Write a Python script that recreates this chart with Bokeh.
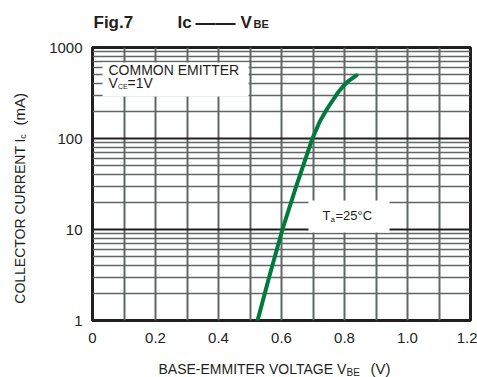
import math
from bokeh.plotting import figure
from bokeh.layouts import column, row
from bokeh.models import FixedTicker, Grid, Label, Range1d
from bokeh.embed import file_html
from bokeh.resources import INLINE

# ---- data ----
vbe = [0.524, 0.563, 0.603, 0.644, 0.698, 0.722, 0.746, 0.778, 0.795, 0.810, 0.838]
ic = [1.0, 3.2, 10.0, 28.0, 100.0, 155.0, 215.0, 316.0, 372.0, 422.0, 495.0]

x_ticks = [0, 0.2, 0.4, 0.6, 0.8, 1.0, 1.2]
x_tick_labels = ["0", "0.2", "0.4", "0.6", "0.8", "1.0", "1.2"]
y_ticks = [1, 10, 100, 1000]
y_tick_labels = ["1", "10", "100", "1000"]
x_grid = [0.1, 0.2, 0.3, 0.4, 0.5, 0.6, 0.7, 0.8, 0.9, 1.0, 1.1]
y_decade_grid = [10, 100]
y_minor_grid = [m * d for d in (1, 10, 100) for m in range(2, 10)]

FONT = "Liberation Sans"
INK = "#231f20"
GRID = "#5f6665"
GREEN = "#007a3d"

# page geometry (pixels)
W, H = 477, 377
L, R, T, B = 92, 470, 47, 320          # plot frame on the page
TOP_H = 40                              # title strip height
BOT_H = 27                              # x-title strip height
YL_W = 40                               # y-title strip width
MID_H = H - TOP_H - BOT_H
BASE_K = 0.37                           # alphabetic-baseline correction (x font size)


def dx(px):
    return (px - L) / (R - L) * 1.2


def dy(py):
    return 10 ** ((B - py) / (B - T) * 3)


def strip(w, h):
    f = figure(width=w, height=h, x_range=Range1d(0, w), y_range=Range1d(h, 0),
               x_axis_type=None, y_axis_type=None, output_backend="svg",
               toolbar_location=None, min_border=0)
    f.outline_line_color = None
    f.grid.visible = False
    f.background_fill_color = "white"
    f.border_fill_color = "white"
    return f


def label(x, y, text, size, bold=False, angle=0.0, align="left", baseline="alphabetic"):
    return Label(x=x, y=y, text=text, text_font=FONT,
                 text_font_size=f"{size}px", text_color=INK,
                 text_font_style="bold" if bold else "normal",
                 text_baseline=baseline, text_align=align, angle=angle)


def plab(px, py, text, size):
    # label inside the main plot, placed by page pixels (py = wanted baseline)
    p.add_layout(label(dx(px), dy(py - BASE_K * size), text, size))


def slab(f, px, py, text, size, bold=False):
    # label in a strip (local pixels, py = wanted baseline)
    f.add_layout(label(px, py - BASE_K * size, text, size, bold=bold))


# ---- main plot ----
p = figure(width=W - YL_W, height=MID_H, x_range=Range1d(0, 1.2), y_range=Range1d(1, 1000),
           y_axis_type="log", output_backend="svg", toolbar_location=None,
           min_border_left=L - YL_W, min_border_right=W - R,
           min_border_top=T - TOP_H, min_border_bottom=H - BOT_H - B)
p.background_fill_color = "white"
p.border_fill_color = "white"
p.outline_line_color = INK
p.outline_line_width = 3

p.xaxis.ticker = FixedTicker(ticks=x_ticks)
p.xaxis.major_label_overrides = {t: s for t, s in zip(x_ticks, x_tick_labels)}
p.yaxis.ticker = FixedTicker(ticks=y_ticks)
p.yaxis.major_label_overrides = {t: s for t, s in zip(y_ticks, y_tick_labels)}
for ax in (p.xaxis, p.yaxis):
    ax.axis_line_color = None
    ax.major_tick_line_color = None
    ax.minor_tick_line_color = None
    ax.major_label_text_font = FONT
    ax.major_label_text_font_size = "15px"
    ax.major_label_text_color = INK
p.xaxis.major_label_standoff = 6
p.yaxis.major_label_standoff = 4

p.xgrid.ticker = FixedTicker(ticks=x_grid)
p.xgrid.grid_line_color = GRID
p.xgrid.grid_line_width = 2
p.ygrid.ticker = FixedTicker(ticks=y_minor_grid)
p.ygrid.grid_line_color = GRID
p.ygrid.grid_line_width = 1.6
p.add_layout(Grid(dimension=1, ticker=FixedTicker(ticks=y_decade_grid),
                  grid_line_color=INK, grid_line_width=2))

# white boxes behind the in-plot notes
p.quad(left=[dx(102), dx(308)], right=[dx(248), dx(389)],
       top=[dy(62), dy(200)], bottom=[dy(96), dy(232)],
       fill_color="white", line_color=None)

p.line(vbe, ic, line_color=GREEN, line_width=4, line_cap="round", line_join="round")

plab(108, 75, "COMMON EMITTER", 14)
plab(108, 88, "V", 14)
plab(117.5, 89, "CE", 7)
plab(127, 88, "=1V", 14)
plab(322, 220, "T", 13)
plab(330, 222, "a", 8)
plab(335, 220, "=25°C", 13)

# ---- title strip ----
top = strip(W, TOP_H)
slab(top, 93, 28, "Fig.7", 17, bold=True)
slab(top, 177, 28, "Ic", 17, bold=True)
slab(top, 195, 29, "——", 20, bold=True)
slab(top, 240, 28, "V", 17, bold=True)
slab(top, 253, 28, "BE", 11, bold=True)

# ---- y-title strip (rotated text, centre-anchored) ----
yl = strip(YL_W, MID_H)
A = math.pi / 2
yl.add_layout(label(19, 237 - TOP_H, "COLLECTOR CURRENT I", 14, angle=A,
                    align="center", baseline="middle"))
yl.add_layout(label(22, 141 - TOP_H, "c", 9, angle=A, align="center", baseline="middle"))
yl.add_layout(label(19, 110 - TOP_H, "(mA)", 15, angle=A, align="center", baseline="middle"))

# ---- x-title strip ----
xl = strip(W, BOT_H)
y0 = H - BOT_H
slab(xl, 158, 374 - y0, "BASE-EMMITER VOLTAGE V", 14)
slab(xl, 346, 376 - y0, "BE", 10)
slab(xl, 370, 374 - y0, "(V)", 15)

layout = column(top, row(yl, p, spacing=0), xl, spacing=0)
open("out.html", "w").write(file_html(layout, INLINE))
